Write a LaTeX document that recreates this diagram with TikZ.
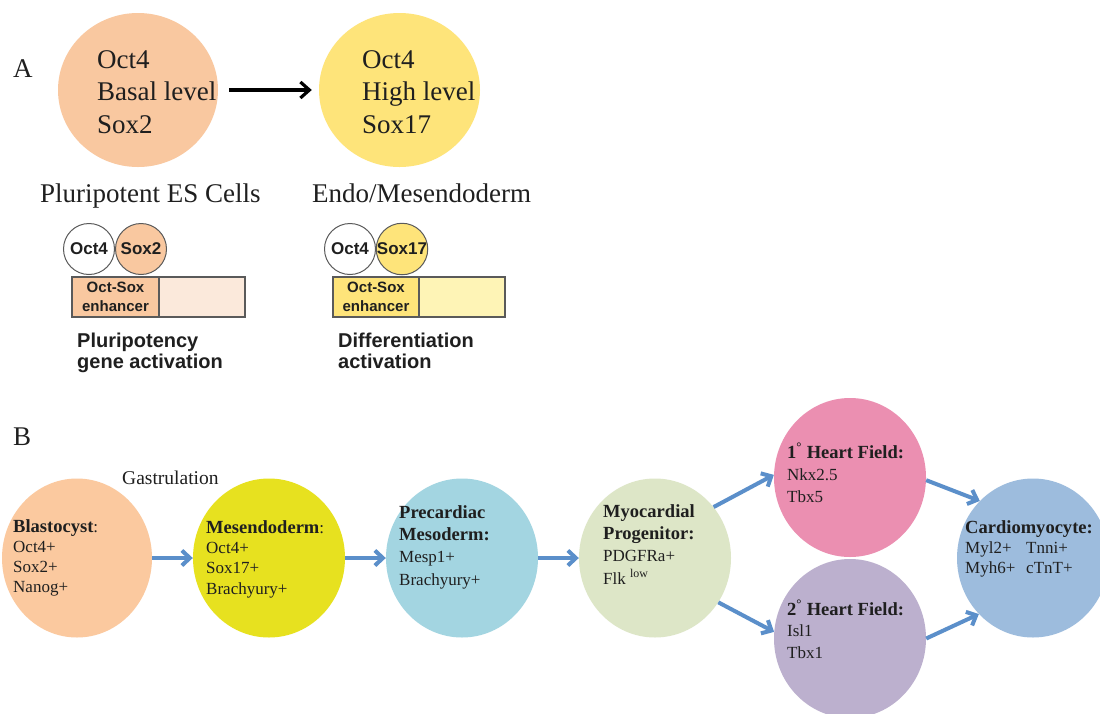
\documentclass[tikz,border=0pt]{standalone}
\usepackage{fontspec}
\setmainfont{Liberation Serif}
\newfontfamily\arialf{Liberation Sans}
\newfontfamily\bserif[Scale=1.09]{Liberation Serif}
\newcommand{\bt}[1]{{\bserif\bfseries #1}}
\usetikzlibrary{arrows.meta,shapes.geometric}
\definecolor{peachA}{HTML}{F9C8A0}
\definecolor{yellowA}{HTML}{FEE47A}
\definecolor{peachR}{HTML}{FBE9DB}
\definecolor{yellowR}{HTML}{FEF4B6}
\definecolor{cBlast}{HTML}{FBC99F}
\definecolor{cMeso}{HTML}{E7E11F}
\definecolor{cPrec}{HTML}{A3D5E1}
\definecolor{cMyo}{HTML}{DDE6C7}
\definecolor{cHfOne}{HTML}{EB8FB1}
\definecolor{cHfTwo}{HTML}{BCB0CE}
\definecolor{cCardio}{HTML}{9DBCDD}
\definecolor{blarr}{HTML}{5B8FCA}
\definecolor{txtdark}{HTML}{1F1F1F}
\definecolor{outl}{HTML}{5A5A5A}
\tikzset{
  bigcirc/.style={ellipse, minimum width=160pt, minimum height=154pt, inner sep=0pt, draw=none},
  cell/.style={ellipse, minimum width=152pt, minimum height=159pt, inner sep=0pt, draw=none},
  bigtxt/.style={anchor=base west, align=left, inner sep=0pt, text=txtdark, font=\fontsize{27}{32.5}\selectfont},
  smallcirc/.style={circle, minimum size=51pt, inner sep=0pt, draw=outl, line width=1pt, text=txtdark, font=\arialf\bfseries\fontsize{17}{19}\selectfont},
  dnabox/.style={rectangle, minimum height=40pt, inner sep=0pt, draw=outl, line width=1.2pt, text=txtdark, align=center, font=\arialf\bfseries\fontsize{15}{19}\selectfont},
  labsans/.style={anchor=base west, align=left, inner sep=0pt, text=txtdark, font=\arialf\bfseries\fontsize{20}{21}\selectfont},
  btxt/.style={anchor=base west, align=left, inner sep=0pt, text=txtdark},
  blarrow/.style={-{Straight Barb[length=8pt,width=15pt]}, line width=4pt, draw=blarr},
  blkarrow/.style={-{Straight Barb[length=9pt,width=16pt]}, line width=3.2pt, draw=black}
}
\begin{document}
\begin{tikzpicture}[x=1pt,y=-1pt]
\useasboundingbox[fill=white] (0,0) rectangle (1100,713);
% ---------- Panel A ----------
\node[anchor=base west, inner sep=0pt, text=txtdark, font=\fontsize{27}{30}\selectfont] (labA) at (13,77) {A};
\node[bigcirc, fill=peachA] (es) at (138,90) {};
\node[bigcirc, fill=yellowA, minimum width=161pt] (em) at (399.5,90) {};
% multi-line nodes: base anchor = baseline of the last line
\node[bigtxt] (estxt) at (97,133) {Oct4\\Basal level\\Sox2};
\node[bigtxt] (emtxt) at (362,133) {Oct4\\High level\\Sox17};
\draw[blkarrow, shorten <=11pt, shorten >=7pt] (es) -- (em);
\node[bigtxt] (escap) at (40,202) {Pluripotent ES Cells};
\node[bigtxt] (emcap) at (312,202) {Endo/Mesendoderm};
% left enhancer
\node[smallcirc, fill=white] (octA) at (89,249) {Oct4};
\node[smallcirc, fill=peachA] (soxA) at (141,249) {Sox2};
\node[dnabox, fill=peachA, minimum width=87pt] (enhA) at (115.5,297) {Oct-Sox\\enhancer};
\node[dnabox, fill=peachR, minimum width=86pt] (restA) at (202,297) {};
\node[labsans] (labPl) at (77,368) {Pluripotency\\gene activation};
% right enhancer
\node[smallcirc, fill=white] (octB) at (350,249) {Oct4};
\node[smallcirc, fill=yellowA] (soxB) at (402,249) {Sox17};
\node[dnabox, fill=yellowA, minimum width=86pt] (enhB) at (376,297) {Oct-Sox\\enhancer};
\node[dnabox, fill=yellowR, minimum width=86pt] (restB) at (462,297) {};
\node[labsans] (labDi) at (338,368) {Differentiation\\activation};
% ---------- Panel B ----------
\node[anchor=base west, inner sep=0pt, text=txtdark, font=\fontsize{27}{30}\selectfont] (labB) at (13,445) {B};
\node[btxt, font=\fontsize{19.5}{22}\selectfont] (gast) at (122,484) {Gastrulation};
\node[cell, fill=cBlast, minimum width=150pt] (blast) at (77,558) {};
\node[cell, fill=cMeso] (meso) at (269,558) {};
\node[cell, fill=cPrec] (prec) at (462,558) {};
\node[cell, fill=cMyo] (myo) at (655,558) {};
\node[cell, fill=cHfOne] (hfone) at (850,477.5) {};
\node[cell, fill=cHfTwo] (hftwo) at (850,638.5) {};
\node[cell, fill=cCardio] (cardio) at (1033,558) {};
\node[btxt, font=\fontsize{17}{20}\selectfont] (tblast) at (13,592) {\bt{Blastocyst}:\\Oct4+\\Sox2+\\Nanog+};
\node[btxt, font=\fontsize{17}{20.3}\selectfont] (tmeso) at (206,594) {\bt{Mesendoderm}:\\Oct4+\\Sox17+\\Brachyury+};
\node[btxt, font=\fontsize{17}{22.3}\selectfont] (tprec) at (399,585) {\bt{Precardiac}\\\bt{Mesoderm:}\\Mesp1+\\Brachyury+};
\node[btxt, font=\fontsize{17}{22.3}\selectfont] (tmyo) at (603,584) {\bt{Myocardial}\\\bt{Progenitor:}\\PDGFRa+\\Flk \textsuperscript{low}};
\node[btxt, font=\fontsize{17}{22}\selectfont] (thfone) at (787,502) {\bt{1\textsuperscript{°} Heart Field:}\\Nkx2.5\\Tbx5};
\node[btxt, font=\fontsize{17}{21.5}\selectfont] (thftwo) at (787,658) {\bt{2\textsuperscript{°} Heart Field:}\\Isl1\\Tbx1};
\node[btxt, font=\fontsize{17}{20}\selectfont] (tcardio) at (965,573) {\bt{Cardiomyocyte:}\\\makebox[61pt][l]{Myl2+}Tnni+\\\makebox[61pt][l]{Myh6+}cTnT+};
\draw[blarrow] (blast) -- (meso);
\draw[blarrow] (meso) -- (prec);
\draw[blarrow] (prec) -- (myo);
\draw[blarrow] (myo.41) -- (hfone.178);
\draw[blarrow] (myo.-35.5) -- (hftwo.175);
\draw[blarrow] (hfone.-2) -- (cardio.133);
\draw[blarrow] (hftwo.-0.5) -- (cardio.226);
\end{tikzpicture}
\end{document}
